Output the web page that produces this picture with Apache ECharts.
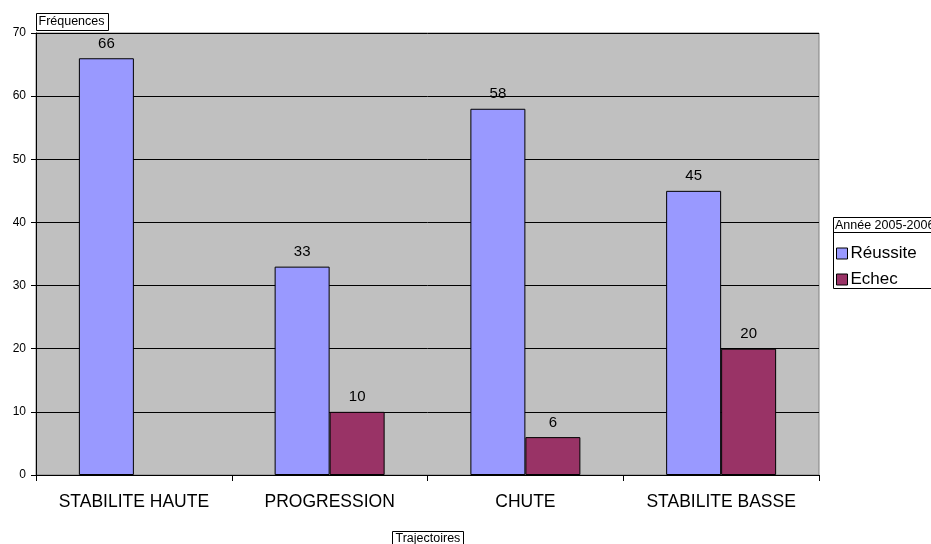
<!DOCTYPE html>
<html>
<head>
<meta charset="utf-8">
<script src="https://cdn.jsdelivr.net/npm/echarts@6/dist/echarts.min.js"></script>
<style>
  html, body { margin: 0; padding: 0; background: #fff; }
  #chart { width: 931px; height: 544px; }
</style>
</head>
<body>
<div id="chart"></div>
<script>
const categories = ['STABILITE HAUTE', 'PROGRESSION', 'CHUTE', 'STABILITE BASSE']
const reussite = [66, 33, 58, 45]
const echec = [null, 10, 6, 20]
const yTicks = { min: 0, max: 70, interval: 10 }

const chart = echarts.init(document.getElementById('chart'))

const font = 'Arial, "Liberation Sans", sans-serif'

// étiquettes au-dessus des barres
const barLabel = {
  show: true,
  position: 'top',
  distance: 7,
  color: '#000',
  fontSize: 15,
  fontFamily: font
}

chart.setOption({
  animation: false,
  grid: { left: 36, right: 112, top: 33, bottom: 69, show: true, backgroundColor: '#c0c0c0', borderColor: '#808080', borderWidth: 1 },
  legend: {
    orient: 'vertical',
    left: 836,
    top: 245,
    itemWidth: 11,
    itemHeight: 11,
    itemGap: 9,
    padding: 0,
    textStyle: { fontSize: 17, color: '#000', fontFamily: font, padding: [0, 0, 0, -2] },
    data: [
      { name: 'Réussite', icon: 'rect', itemStyle: { borderColor: '#000', borderWidth: 1 } },
      { name: 'Echec', icon: 'rect', itemStyle: { borderColor: '#000', borderWidth: 1 } }
    ]
  },
  graphic: [
    {
      type: 'group', left: 36, top: 13,
      children: [
        { type: 'rect', shape: { x: 0, y: 0, width: 72, height: 17 }, style: { fill: '#fff', stroke: '#000', lineWidth: 1 } },
        { type: 'text', x: 2, y: 2, style: { text: 'Fréquences', fontSize: 12.5, fontFamily: font, fill: '#000' } }
      ]
    },
    // cadre de la légende avec son titre
    {
      type: 'group', left: 831, top: 217, z: -1,
      children: [
        { type: 'rect', shape: { x: 0.5, y: 0.5, width: 130, height: 71 }, style: { fill: '#fff', stroke: '#000', lineWidth: 1 } },
        { type: 'line', shape: { x1: 0.5, y1: 15.5, x2: 130, y2: 15.5 }, style: { stroke: '#000', lineWidth: 1 } },
        { type: 'text', x: 2, y: 2, style: { text: 'Année 2005-2006', fontSize: 12.5, fontFamily: font, fill: '#000' } }
      ]
    },
    {
      type: 'group', left: 392, top: 531,
      children: [
        { type: 'rect', shape: { x: 0, y: 0, width: 71, height: 16 }, style: { fill: '#fff', stroke: '#000', lineWidth: 1 } },
        { type: 'text', x: 3, y: 1, style: { text: 'Trajectoires', fontSize: 12.5, fontFamily: font, fill: '#000' } }
      ]
    }
  ],
  xAxis: {
    type: 'category',
    data: categories,
    axisLine: { lineStyle: { color: '#000' } },
    axisTick: { show: true, interval: 0, length: 6, lineStyle: { color: '#000' } },
    axisLabel: { interval: 0, fontSize: 17.5, color: '#000', fontFamily: font, margin: 18 },
    splitLine: { show: false }
  },
  yAxis: {
    type: 'value',
    min: yTicks.min,
    max: yTicks.max,
    interval: yTicks.interval,
    axisLine: { show: true, lineStyle: { color: '#000' } },
    axisTick: { show: true, length: 5, lineStyle: { color: '#000' } },
    axisLabel: { fontSize: 12, color: '#000', fontFamily: font, margin: 10 },
    splitLine: { show: true, lineStyle: { color: '#000', width: 1 } }
  },
  series: [
    {
      name: 'Réussite',
      type: 'bar',
      data: reussite,
      barWidth: 55,
      barGap: '0%',
      itemStyle: { color: '#9999ff', borderColor: '#000', borderWidth: 1 },
      label: barLabel
    },
    {
      name: 'Echec',
      type: 'bar',
      data: echec,
      barWidth: 55,
      itemStyle: { color: '#993366', borderColor: '#000', borderWidth: 1 },
      label: barLabel
    }
  ]
})
</script>
</body>
</html>
